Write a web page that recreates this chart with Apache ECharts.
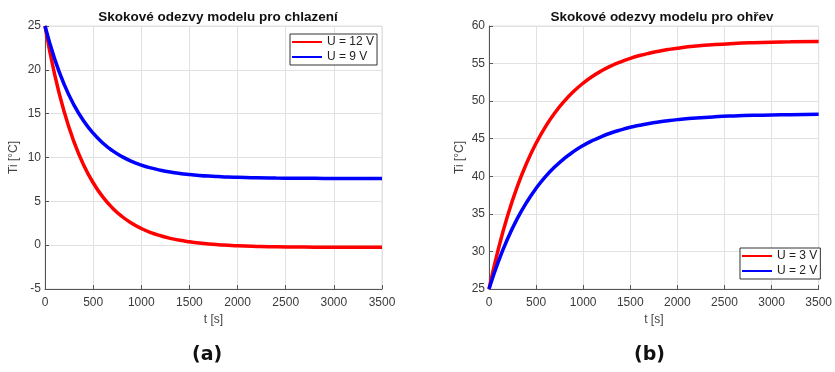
<!DOCTYPE html>
<html>
<head>
<meta charset="utf-8">
<script src="https://cdn.jsdelivr.net/npm/echarts@6/dist/echarts.min.js"></script>
<style>
  html, body { margin: 0; padding: 0; background: #fff; }
  #chart { width: 835px; height: 372px; }
</style>
</head>
<body>
<div id="chart"></div>
<script>
// Sample times [s]
const time = [0, 100, 200, 300, 400, 500, 600, 700, 800, 900, 1000, 1100, 1200, 1300, 1400,
  1500, 1600, 1700, 1800, 1900, 2000, 2200, 2400, 2600, 2800, 3000, 3200, 3500];

// Cooling step responses, Ti [°C]
const cool12V = [25.0, 19.49, 15.18, 11.81, 9.18, 7.12, 5.51, 4.25, 3.27, 2.50, 1.90, 1.43, 1.07, 0.78, 0.55,
  0.38, 0.24, 0.13, 0.05, -0.01, -0.07, -0.14, -0.19, -0.21, -0.23, -0.24, -0.25, -0.25];
const cool9V = [25.0, 21.25, 18.31, 16.00, 14.19, 12.77, 11.66, 10.78, 10.10, 9.56, 9.14, 8.81, 8.55, 8.34, 8.18,
  8.06, 7.96, 7.88, 7.82, 7.77, 7.74, 7.68, 7.65, 7.63, 7.62, 7.61, 7.60, 7.60];

// Heating step responses, Ti [°C]
const heat3V = [25.0, 30.36, 34.85, 38.62, 41.76, 44.40, 46.61, 48.46, 50.01, 51.31, 52.40, 53.31, 54.07, 54.71, 55.24,
  55.69, 56.07, 56.38, 56.64, 56.86, 57.05, 57.33, 57.53, 57.67, 57.77, 57.84, 57.89, 57.93];
const heat2V = [25.0, 28.67, 31.76, 34.36, 36.55, 38.40, 39.96, 41.27, 42.38, 43.31, 44.10, 44.76, 45.32, 45.79, 46.18,
  46.52, 46.79, 47.03, 47.23, 47.40, 47.54, 47.76, 47.92, 48.03, 48.11, 48.16, 48.20, 48.24];

const xTicks = { min: 0, max: 3500, interval: 500 };
const coolTicks = { min: -5, max: 25, interval: 5 };
const heatTicks = { min: 25, max: 60, interval: 5 };

const FONT = 'Liberation Sans, Arial, sans-serif';
const pairs = ys => time.map((t, i) => [t, ys[i]]);
const plain = v => String(v);

function xAxis(gridIndex) {
  return {
    type: 'value', gridIndex, min: xTicks.min, max: xTicks.max, interval: xTicks.interval,
    name: 't [s]', nameLocation: 'middle', nameGap: 19,
    nameTextStyle: { color: '#444', fontSize: 12, fontFamily: FONT },
    axisLine: { show: true, onZero: false, lineStyle: { color: '#555', width: 1 } },
    axisTick: { show: true, inside: true, length: 4, lineStyle: { color: '#555' } },
    axisLabel: { color: '#3a3a3a', fontSize: 12, fontFamily: FONT, margin: 8, formatter: plain },
    splitLine: { show: true, lineStyle: { color: '#e2e2e2', width: 1 } }
  };
}
function yAxis(gridIndex, ticks, gap) {
  return {
    type: 'value', gridIndex, min: ticks.min, max: ticks.max, interval: ticks.interval,
    name: 'Ti [°C]', nameLocation: 'middle', nameGap: gap,
    nameTextStyle: { color: '#444', fontSize: 12, fontFamily: FONT },
    axisLine: { show: true, onZero: false, lineStyle: { color: '#555', width: 1 } },
    axisTick: { show: true, inside: true, length: 4, lineStyle: { color: '#555' } },
    axisLabel: { color: '#3a3a3a', fontSize: 12, fontFamily: FONT, margin: 4, formatter: plain },
    splitLine: { show: true, lineStyle: { color: '#e2e2e2', width: 1 } }
  };
}
function line(name, color, data, idx) {
  return {
    name, type: 'line', xAxisIndex: idx, yAxisIndex: idx, data: pairs(data),
    smooth: true, showSymbol: false, color,
    lineStyle: { color, width: 3.5 }, animation: false
  };
}
const legendBase = {
  orient: 'vertical', backgroundColor: '#fff', borderColor: '#333', borderWidth: 1,
  padding: [2, 3, 2, 2], itemGap: 3, itemWidth: 30, itemHeight: 2, icon: 'rect',
  textStyle: { color: '#222', fontSize: 12, fontFamily: FONT }
};

const chart = echarts.init(document.getElementById('chart'), null, { renderer: 'canvas' });
chart.setOption({
  backgroundColor: '#fff',
  animation: false,
  title: [
    { text: 'Skokové odezvy modelu pro chlazení', left: 213, top: 5, textAlign: 'center',
      textStyle: { fontSize: 13.5, fontWeight: 'bold', color: '#111', fontFamily: FONT } },
    { text: 'Skokové odezvy modelu pro ohřev', left: 657, top: 5, textAlign: 'center',
      textStyle: { fontSize: 13.5, fontWeight: 'bold', color: '#111', fontFamily: FONT } }
  ],
  grid: [
    { left: 45, top: 26, width: 337, height: 263, show: true, borderColor: '#dcdcdc', borderWidth: 1 },
    { left: 489, top: 26, width: 337, height: 263, show: true, borderColor: '#dcdcdc', borderWidth: 1 }
  ],
  xAxis: [xAxis(0), xAxis(1)],
  yAxis: [yAxis(0, coolTicks, 25), yAxis(1, heatTicks, 23)],
  legend: [
    Object.assign({}, legendBase, { data: ['U = 12 V', 'U = 9 V'], left: 290, top: 34 }),
    Object.assign({}, legendBase, { data: ['U = 3 V', 'U = 2 V'], left: 740, top: 248 })
  ],
  series: [
    line('U = 12 V', '#ff0000', cool12V, 0),
    line('U = 9 V', '#0000ff', cool9V, 0),
    line('U = 3 V', '#ff0000', heat3V, 1),
    line('U = 2 V', '#0000ff', heat2V, 1)
  ],
  graphic: [
    { type: 'text', left: 192, top: 346,
      style: { text: '(a)', font: 'bold 19px "DejaVu Sans", sans-serif', fill: '#111' } },
    { type: 'text', left: 634, top: 346,
      style: { text: '(b)', font: 'bold 19px "DejaVu Sans", sans-serif', fill: '#111' } }
  ]
});
</script>
</body>
</html>
